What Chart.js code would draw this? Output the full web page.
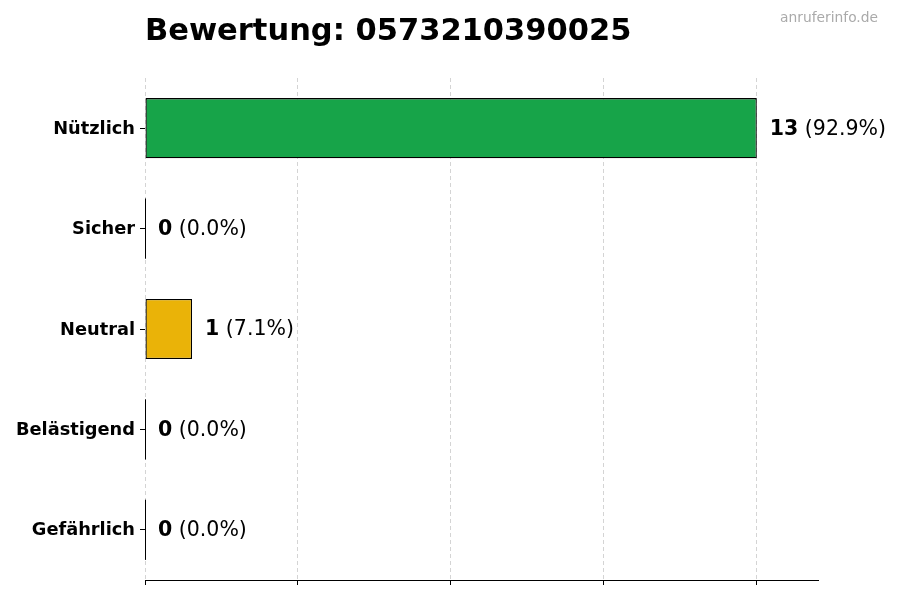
<!DOCTYPE html>
<html lang="de">
<head>
<meta charset="utf-8">
<title>Bewertung: 0573210390025</title>
<script src="https://cdn.jsdelivr.net/npm/chart.js@4/dist/chart.umd.min.js"></script>
<style>
  html, body { margin: 0; padding: 0; background: #fff; }
  #wrap { width: 900px; height: 600px; position: relative; }
</style>
</head>
<body>
<div id="wrap"><canvas id="chart"></canvas></div>
<script>
/* ===============================
   DATA
================================ */
const categories = ["Nützlich", "Sicher", "Neutral", "Belästigend", "Gefährlich"];
const counts = [13, 0, 1, 0, 0];
const barColors = ["#17a449", "#2563eb", "#eab308", "#f97316", "#dc2626"];
const xTicks = [0, 3.25, 6.5, 9.75, 13];
const xMax = 14.3;

const titleText = "Bewertung: 0573210390025";
const watermarkText = "anruferinfo.de";

const FONT = "'DejaVu Sans', sans-serif";
const total = counts.reduce((a, b) => a + b, 0);

/* -------------------------------
   Title, watermark, value labels
-------------------------------- */
const decorPlugin = {
  id: "decor",
  afterDatasetsDraw(chart) {
    const ctx = chart.ctx;
    const meta = chart.getDatasetMeta(0);
    ctx.save();

    meta.data.forEach((bar, i) => {
      const props = bar.getProps(["x", "y", "base", "height"], true);

      // zero bars still show their edge
      if (counts[i] === 0) {
        ctx.strokeStyle = "#000";
        ctx.lineWidth = 1;
        ctx.beginPath();
        ctx.moveTo(props.base + 0.5, props.y - props.height / 2);
        ctx.lineTo(props.base + 0.5, props.y + props.height / 2);
        ctx.stroke();
      }

      const pct = total ? (counts[i] / total * 100).toFixed(1) : "0.0";
      let x = props.x + 13;
      const y = props.y + 1;
      ctx.textBaseline = "middle";
      ctx.textAlign = "left";
      ctx.fillStyle = "#000";
      ctx.font = "bold 20.5px " + FONT;
      const valueText = String(counts[i]);
      ctx.fillText(valueText, x, y);
      x += ctx.measureText(valueText).width;
      ctx.font = "20.5px " + FONT;
      ctx.fillText(" (" + pct + "%)", x, y);
    });

    ctx.restore();
  },
  afterDraw(chart) {
    const ctx = chart.ctx;
    ctx.save();
    ctx.textBaseline = "alphabetic";

    ctx.textAlign = "left";
    ctx.fillStyle = "#000";
    ctx.font = "bold 30.5px " + FONT;
    ctx.fillText(titleText, chart.chartArea.left, 40);

    ctx.textAlign = "right";
    ctx.fillStyle = "#aaaaaa";
    ctx.font = "13.8px " + FONT;
    ctx.fillText(watermarkText, 878, 22);

    ctx.restore();
  }
};

/* ===============================
   CHART
================================ */
new Chart(document.getElementById("chart"), {
  type: "bar",
  data: {
    labels: categories,
    datasets: [{
      data: counts,
      backgroundColor: barColors,
      borderColor: "#000",
      borderWidth: 1.3,
      borderSkipped: false,
      barPercentage: 0.6,
      categoryPercentage: 1
    }]
  },
  options: {
    indexAxis: "y",
    responsive: true,
    maintainAspectRatio: false,
    animation: false,
    layout: {
      padding: { top: 78, right: 82, left: 0, bottom: 0 }
    },
    plugins: {
      legend: { display: false },
      tooltip: { enabled: false }
    },
    scales: {
      x: {
        min: 0,
        max: xMax,
        afterBuildTicks: axis => {
          axis.ticks = xTicks.map(v => ({ value: v }));
        },
        afterFit: axis => { axis.height = 20; },
        ticks: { display: false },
        grid: {
          color: "#d4d4d4",
          lineWidth: 1,
          drawTicks: true,
          tickLength: 5,
          tickColor: "#000",
          tickBorderDash: []
        },
        border: { display: true, color: "#000", width: 1, dash: [4, 3] }
      },
      y: {
        afterFit: axis => { axis.width = 145; },
        ticks: {
          color: "#000",
          padding: 5,
          labelOffset: 1,
          font: { family: FONT, size: 17.8, weight: "bold" }
        },
        grid: {
          offset: false,
          drawOnChartArea: false,
          drawTicks: true,
          tickLength: 5,
          tickColor: "#000"
        },
        border: { display: false }
      }
    }
  },
  plugins: [decorPlugin]
});
</script>
</body>
</html>
